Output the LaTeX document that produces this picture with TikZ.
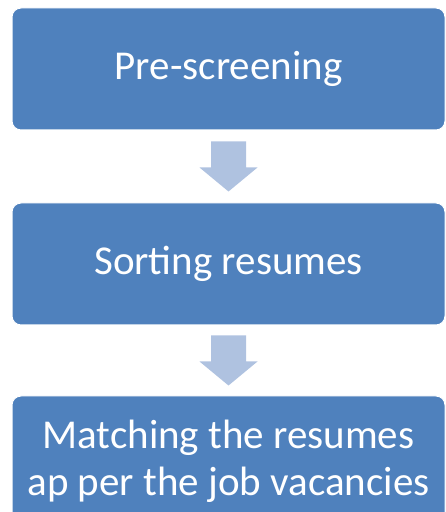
\documentclass[tikz,border=0pt]{standalone}
\usepackage{fontspec}
\setmainfont{Carlito}
\usetikzlibrary{calc}
\definecolor{boxblue}{HTML}{4F81BD}
\definecolor{arrowblue}{HTML}{AFC2E0}
\tikzset{
  stepbox/.style={draw=white, line width=1pt, fill=boxblue, rounded corners=9pt,
    minimum width=433pt, minimum height=122pt, inner sep=0pt, text=white,
    align=center, font=\fontsize{41}{47}\selectfont},
  blockarrow/.style={fill=arrowblue, draw=none}
}
\begin{document}
\begin{tikzpicture}[x=1pt,y=1pt]
\useasboundingbox (0,0) rectangle (446,512);
\clip (0,0) rectangle (446,512);
\node[stepbox] (b1) at (228.5,443) {Pre-screening};
\node[stepbox] (b2) at (228.5,248) {Sorting resumes};
\node[stepbox, minimum height=130pt] (b3) at (228.5,51) {Matching the resumes\\ap per the job vacancies};
\path (b1.south) -- (b2.north) coordinate[midway] (m1);
\path (b2.south) -- (b3.north) coordinate[midway] (m2);
\foreach \m in {m1,m2}{
  \fill[blockarrow] ($(\m)+(-17.5,25)$) -- ($(\m)+(17.5,25)$) -- ($(\m)+(17.5,-1)$)
    -- ($(\m)+(29,-1)$) -- ($(\m)+(0,-25)$) -- ($(\m)+(-29,-1)$)
    -- ($(\m)+(-17.5,-1)$) -- cycle;
}
\end{tikzpicture}
\end{document}
